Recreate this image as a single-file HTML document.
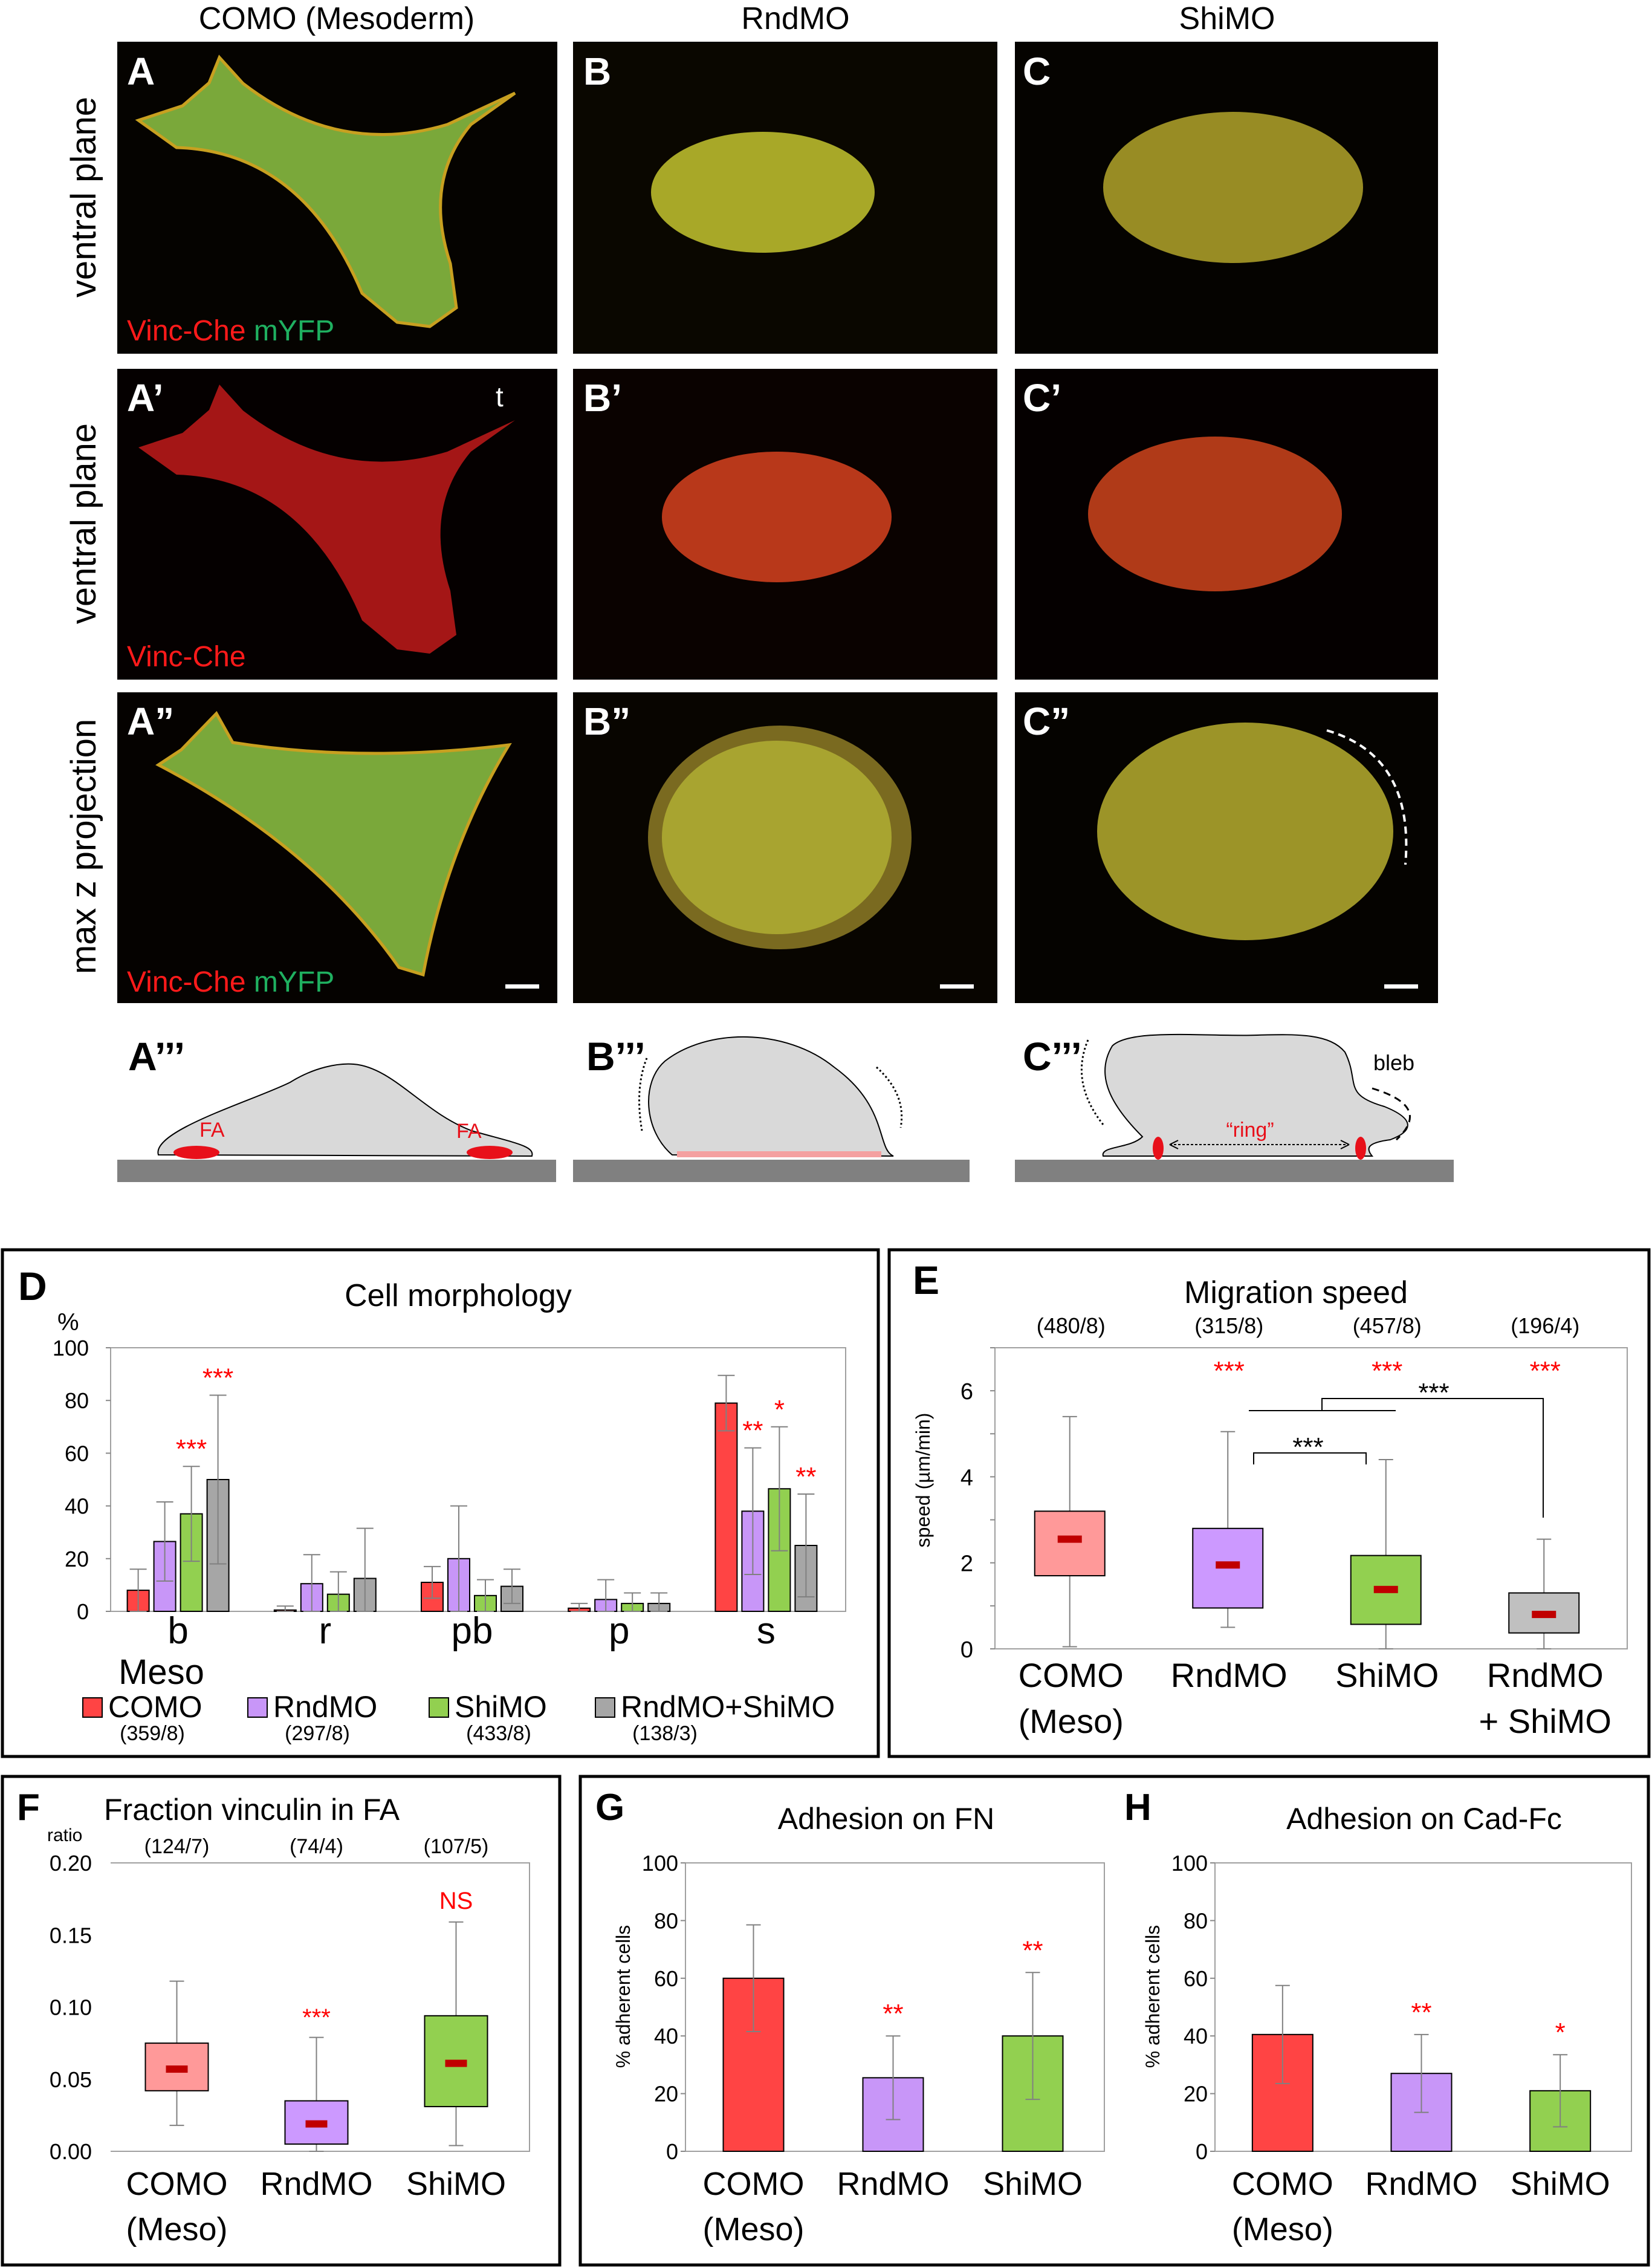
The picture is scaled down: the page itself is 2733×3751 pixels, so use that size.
<!DOCTYPE html>
<html><head><meta charset="utf-8"><style>
html,body{margin:0;padding:0;background:#fff}
svg{display:block}
text{font-family:"Liberation Sans Narrow","Liberation Sans",sans-serif}
</style></head><body>
<svg id="fig" xmlns="http://www.w3.org/2000/svg" width="2733" height="3751" viewBox="0 0 2733 3751">
<g font-size="52" text-anchor="middle" fill="#000">
<text x="557" y="48">COMO (Mesoderm)</text>
<text x="1316" y="48">RndMO</text>
<text x="2030" y="48">ShiMO</text>
</g>
<g font-size="58" text-anchor="middle" fill="#000" style="font-family:'Liberation Sans',sans-serif">
<text transform="translate(158,326) rotate(-90)">ventral plane</text>
<text transform="translate(158,866) rotate(-90)">ventral plane</text>
<text transform="translate(158,1400) rotate(-90)">max z projection</text>
</g>
<g>
<rect x="194" y="69" width="728" height="516" fill="#050300"/>
<path d="M363,95 L402,138 Q560,260 740,206 L852,154 L779,206 Q700,300 745,436 L755,509 L711,540 L657,533 L599,485 Q500,250 292,244 L229,199 L302,175 L346,137 Z" fill="#7aa83a" stroke="#c8a020" stroke-width="5"/>
<text x="210" y="140" font-size="64" font-weight="bold" fill="#fff">A</text>
<text x="210" y="563" font-size="48" fill="#ff1a1a">Vinc-Che <tspan fill="#1fb060">mYFP</tspan></text>
</g>
<g>
<rect x="194" y="610" width="728" height="514" fill="#050000"/>
<path transform="translate(0,541)" d="M363,95 L402,138 Q560,260 740,206 L852,154 L779,206 Q700,300 745,436 L755,509 L711,540 L657,533 L599,485 Q500,250 292,244 L229,199 L302,175 L346,137 Z" fill="#a41616"/>
<text x="210" y="680" font-size="64" font-weight="bold" fill="#fff">A’</text>
<text x="820" y="672" font-size="46" fill="#fff">t</text>
<text x="210" y="1102" font-size="48" fill="#ff1a1a">Vinc-Che</text>
</g>
<g>
<rect x="194" y="1145" width="728" height="514" fill="#050200"/>
<path d="M358,1180 L385,1228 Q600,1262 842,1232 Q740,1400 700,1612 L660,1600 Q520,1400 262,1265 L300,1240 Z" fill="#7aa83a" stroke="#c8a020" stroke-width="5"/>
<text x="210" y="1215" font-size="64" font-weight="bold" fill="#fff">A”</text>
<text x="210" y="1640" font-size="48" fill="#ff1a1a">Vinc-Che <tspan fill="#1fb060">mYFP</tspan></text>
<rect x="836" y="1628" width="56" height="7" fill="#fff"/>
</g>
<g>
<rect x="948" y="69" width="702" height="516" fill="#0a0700"/>
<ellipse cx="1262" cy="318" rx="185" ry="100" fill="#a8a828"/>
<text x="965" y="140" font-size="64" font-weight="bold" fill="#fff">B</text>
</g>
<g>
<rect x="948" y="610" width="702" height="514" fill="#0a0200"/>
<ellipse cx="1285" cy="855" rx="190" ry="108" fill="#b8381a"/>
<text x="965" y="680" font-size="64" font-weight="bold" fill="#fff">B’</text>
</g>
<g>
<rect x="948" y="1145" width="702" height="514" fill="#080500"/>
<ellipse cx="1290" cy="1385" rx="218" ry="185" fill="#7a6a20"/>
<ellipse cx="1285" cy="1385" rx="190" ry="160" fill="#a8a430"/>
<text x="965" y="1215" font-size="64" font-weight="bold" fill="#fff">B”</text>
<rect x="1555" y="1628" width="56" height="7" fill="#fff"/>
</g>
<g>
<rect x="1679" y="69" width="700" height="516" fill="#050300"/>
<ellipse cx="2040" cy="310" rx="215" ry="125" fill="#988c24"/>
<text x="1692" y="140" font-size="64" font-weight="bold" fill="#fff">C</text>
</g>
<g>
<rect x="1679" y="610" width="700" height="514" fill="#050000"/>
<ellipse cx="2010" cy="850" rx="210" ry="128" fill="#b03a18"/>
<text x="1692" y="680" font-size="64" font-weight="bold" fill="#fff">C’</text>
</g>
<g>
<rect x="1679" y="1145" width="700" height="514" fill="#050300"/>
<ellipse cx="2060" cy="1375" rx="245" ry="180" fill="#9c9428"/>
<path d="M2195,1208 Q2340,1250 2325,1430" fill="none" stroke="#fff" stroke-width="4" stroke-dasharray="12,8"/>
<text x="1692" y="1215" font-size="64" font-weight="bold" fill="#fff">C”</text>
<rect x="2290" y="1628" width="56" height="7" fill="#fff"/>
</g>
<g>
<text x="212" y="1770" font-size="66" font-weight="bold">A’’’</text>
<text x="970" y="1770" font-size="66" font-weight="bold">B’’’</text>
<text x="1692" y="1770" font-size="66" font-weight="bold">C’’’</text>
<rect x="194" y="1918" width="726" height="37" fill="#808080"/>
<rect x="948" y="1918" width="656" height="37" fill="#808080"/>
<rect x="1679" y="1918" width="726" height="37" fill="#808080"/>
<path d="M262,1910 C250,1870 420,1820 480,1790 C520,1765 560,1758 585,1760 C650,1765 700,1840 780,1870 C850,1890 885,1895 880,1912 Z" fill="#d9d9d9" stroke="#000" stroke-width="2"/>
<ellipse cx="325" cy="1906" rx="38" ry="11" fill="#e8101a"/>
<ellipse cx="810" cy="1906" rx="38" ry="11" fill="#e8101a"/>
<text x="330" y="1880" font-size="34" fill="#e8101a">FA</text>
<text x="755" y="1882" font-size="34" fill="#e8101a">FA</text>
<path d="M1112,1910 C1065,1870 1060,1790 1100,1755 C1170,1700 1300,1700 1380,1765 C1470,1830 1450,1900 1478,1912 Z" fill="#d9d9d9" stroke="#000" stroke-width="2"/>
<rect x="1120" y="1904" width="338" height="10" fill="#f4a0a0"/>
<path d="M1070,1750 Q1050,1800 1062,1870 M1450,1765 Q1500,1810 1490,1865" fill="none" stroke="#000" stroke-width="3" stroke-dasharray="3,4"/>
<path d="M1825,1912 C1820,1895 1870,1900 1890,1880 C1840,1830 1810,1780 1840,1730 C1870,1700 2000,1715 2080,1712 C2150,1710 2200,1710 2225,1740 C2250,1790 2220,1810 2290,1830 C2340,1850 2340,1870 2300,1885 C2260,1890 2260,1900 2270,1912 Z" fill="#d9d9d9" stroke="#000" stroke-width="2"/>
<ellipse cx="1916" cy="1899" rx="9" ry="19" fill="#e8101a"/>
<ellipse cx="2251" cy="1899" rx="9" ry="19" fill="#e8101a"/>
<path d="M1935,1893 L2232,1893" stroke="#000" stroke-width="2" stroke-dasharray="4,3"/>
<path d="M1935,1893 l14,-7 M1935,1893 l14,7 M2232,1893 l-14,-7 M2232,1893 l-14,7" stroke="#000" stroke-width="2"/>
<text x="2068" y="1880" font-size="34" fill="#e8101a" text-anchor="middle">“ring”</text>
<text x="2272" y="1770" font-size="36">bleb</text>
<path d="M1800,1720 Q1770,1790 1825,1860" fill="none" stroke="#000" stroke-width="3" stroke-dasharray="3,4"/>
<path d="M2270,1800 Q2370,1830 2310,1885" fill="none" stroke="#000" stroke-width="3" stroke-dasharray="12,8"/>
</g>
<rect x="4" y="2067" width="1449" height="838" fill="none" stroke="#000" stroke-width="5"/>
<rect x="1471" y="2067" width="1257" height="838" fill="none" stroke="#000" stroke-width="5"/>
<rect x="4" y="2938" width="922" height="808" fill="none" stroke="#000" stroke-width="5"/>
<rect x="960" y="2938" width="1767" height="808" fill="none" stroke="#000" stroke-width="5"/>
<g id="charts"></g>
</svg>
<script>
// ---- Panel D data ----
const dCats = ['b','r','pb','p','s'];
const dSeriesNames = ['COMO','RndMO','ShiMO','RndMO+ShiMO'];
const dCounts = ['(359/8)','(297/8)','(433/8)','(138/3)'];
const dComo = [8, 0.5, 11, 1.2, 79];
const dRnd = [26.5, 10.5, 20, 4.5, 38];
const dShi = [37, 6.5, 6, 3, 46.5];
const dBoth = [50, 12.5, 9.5, 3, 25];
const dComoErr = [8, 1.5, 6, 1.8, 10.5];
const dRndErr = [15, 11, 20, 7.5, 24];
const dShiErr = [18, 8.5, 6, 4, 23.5];
const dBothErr = [32, 19, 6.5, 4, 19.5];
const dStars = [['','','***','***'],['','','',''],['','','',''],['','','',''],['','**','*','**']];
const dTicks = [0,20,40,60,80,100];
// ---- Panel E data ----
const eCats = [['COMO','(Meso)'],['RndMO',''],['ShiMO',''],['RndMO','+ ShiMO']];
const eCounts = ['(480/8)','(315/8)','(457/8)','(196/4)'];
const eMin = [0.05, 0.5, 0, 0];
const eQ1 = [1.7, 0.95, 0.57, 0.37];
const eMed = [2.55, 1.95, 1.38, 0.8];
const eQ3 = [3.2, 2.8, 2.17, 1.3];
const eMax = [5.4, 5.05, 4.4, 2.55];
const eStars = ['','***','***','***'];
const eTicks = [0,2,4,6];
// ---- Panel F data ----
const fCats = [['COMO','(Meso)'],['RndMO',''],['ShiMO','']];
const fCounts = ['(124/7)','(74/4)','(107/5)'];
const fMin = [0.018, 0.0, 0.004];
const fQ1 = [0.042, 0.005, 0.031];
const fMed = [0.057, 0.019, 0.061];
const fQ3 = [0.075, 0.035, 0.094];
const fMax = [0.118, 0.079, 0.159];
const fSig = ['','***','NS'];
const fTicks = ['0.00','0.05','0.10','0.15','0.20'];
// ---- Panel G/H data ----
const ghCats = [['COMO','(Meso)'],['RndMO',''],['ShiMO','']];
const gVals = [60, 25.5, 40];
const gErr = [18.5, 14.5, 22];
const gStars = ['','**','**'];
const hVals = [40.5, 27, 21];
const hErr = [17, 13.5, 12.5];
const hStars = ['','**','*'];
const ghTicks = [0,20,40,60,80,100];

const NS='http://www.w3.org/2000/svg';
const root=document.getElementById('charts');
function mk(tag,attrs,parent,txt){const e=document.createElementNS(NS,tag);for(const k in attrs)e.setAttribute(k,attrs[k]);if(txt!==undefined)e.textContent=txt;(parent||root).appendChild(e);return e;}

// ===== D =====
(function(){
const g=mk('g',{});


const L=183,R=1399,T=2229,B=2665;
const y=v=>B-(v/100)*(B-T);
const groupW=(R-L)/dCats.length;
const cx=i=>L+groupW*(i+0.5)-10;
const cols=['#ff4444','#c896f8','#92d050','#a6a6a6'];
const vals=[dComo,dRnd,dShi,dBoth], errs=[dComoErr,dRndErr,dShiErr,dBothErr];
let t=mk('text',{x:30,y:2150,'font-size':66,'font-weight':'bold'},g,'D');

t=mk('text',{x:758,y:2160,'font-size':52,'text-anchor':'middle'},g,'Cell morphology');

t=mk('text',{x:95,y:2200,'font-size':40},g,'%');

let r=mk('rect',{x:L,y:T,width:R-L,height:B-T,fill:'none',stroke:'#a0a0a0','stroke-width':2},g);

dTicks.forEach(v=>{const tt=mk('text',{x:147,y:y(v)+13,'font-size':36,'text-anchor':'end'},g,String(v));

const ln=mk('line',{x1:L-8,x2:L,y1:y(v),y2:y(v),stroke:'#888','stroke-width':2},g);
});
dCats.forEach((c,i)=>{
 const tt=mk('text',{x:cx(i),y:2718,'font-size':62,'text-anchor':'middle'},g,c);
 
 for(let s=0;s<4;s++){
  const bx=cx(i)+(s-1.5)*44-18, v=vals[s][i], e=errs[s][i];
  const b=mk('rect',{x:bx,y:y(v),width:36,height:B-y(v),fill:cols[s],stroke:'#000','stroke-width':2},g);
  
  
  const m=bx+18, hi=v+e, lo=Math.max(0,v-e);
  const eb=mk('path',{d:`M${m},${y(lo)}V${y(hi)}M${m-14},${y(hi)}H${m+14}M${m-14},${y(lo)}H${m+14}`,stroke:'#808080','stroke-width':2,fill:'none'},g);
  
  if(dStars[i][s]){const st=mk('text',{x:m,y:y(hi)-14,'font-size':44,'text-anchor':'middle',fill:'#ff0000'},g,dStars[i][s]);
  }
 }
});
t=mk('text',{x:267,y:2785,'font-size':58,'text-anchor':'middle'},g,'Meso');

const lx=[137,410,710,985];
dSeriesNames.forEach((n,s)=>{
 const sw=mk('rect',{x:lx[s],y:2808,width:32,height:32,fill:cols[s],stroke:'#000','stroke-width':2},g);
 
 const lt=mk('text',{x:lx[s]+42,y:2840,'font-size':50},g,n);
 
 const ct=mk('text',{x:lx[s]+115,y:2878,'font-size':34,'text-anchor':'middle'},g,dCounts[s]);
 
});
})();

function boxChart(g,opt,mn,q1,md,q3,mx){
 mn.forEach((_,i)=>{
  const c=opt.cx(i), w=opt.bw, y=opt.y;
  const wk=mk('path',{d:`M${c},${y(mn[i])}V${y(q1[i])}M${c},${y(q3[i])}V${y(mx[i])}M${c-12},${y(mx[i])}H${c+12}M${c-12},${y(mn[i])}H${c+12}`,stroke:'#808080','stroke-width':2,fill:'none'},g);
  
  const b=mk('rect',{x:c-w/2,y:y(q3[i]),width:w,height:y(q1[i])-y(q3[i]),fill:opt.cols[i],stroke:'#000','stroke-width':2},g);
  
  const m=mk('rect',{x:c-opt.mw/2,y:y(md[i])-6,width:opt.mw,height:12,fill:'#c00000'},g);
  
 });
}

// ===== E =====
(function(){
const g=mk('g',{});


const L=1646,R=2692,T=2229,B=2727,YM=7;
const y=v=>B-(v/YM)*(B-T);
const cw=(R-L)/4, cx=i=>L+cw*(i+0.5)-7;
let t=mk('text',{x:1510,y:2140,'font-size':66,'font-weight':'bold'},g,'E');

t=mk('text',{x:2144,y:2155,'font-size':52,'text-anchor':'middle'},g,'Migration speed');

let r=mk('rect',{x:L,y:T,width:R-L,height:B-T,fill:'none',stroke:'#a0a0a0','stroke-width':2},g);

t=mk('text',{transform:'translate(1538,2448) rotate(-90)','font-size':32,'text-anchor':'middle',style:"font-family:'Liberation Sans',sans-serif"},g,'speed (µm/min)');

for(let v=0;v<=YM;v++){const ln=mk('line',{x1:L-8,x2:L,y1:y(v),y2:y(v),stroke:'#888','stroke-width':2},g);
}
eTicks.forEach(v=>{const tt=mk('text',{x:1610,y:y(v)+14,'font-size':38,'text-anchor':'end'},g,String(v));
});
boxChart(g,{cx,y,bw:116,mw:40,cols:['#ff9999','#cc99ff','#92d050','#c0c0c0']},eMin,eQ1,eMed,eQ3,eMax);
eCats.forEach((c,i)=>{
 let a=mk('text',{x:cx(i)+2,y:2205,'font-size':36,'text-anchor':'middle'},g,eCounts[i]);
 
 a=mk('text',{x:cx(i)+2,y:2790,'font-size':56,'text-anchor':'middle'},g,c[0]);
 
 if(c[1]){a=mk('text',{x:cx(i)+2,y:2866,'font-size':56,'text-anchor':'middle'},g,c[1]);
 }
 if(eStars[i]){a=mk('text',{x:cx(i)+2,y:2282,'font-size':44,'text-anchor':'middle',fill:'#ff0000'},g,eStars[i]);
 }
});
let br=mk('path',{d:'M2074,2422V2403H2260V2422',stroke:'#000','stroke-width':2,fill:'none'},g);

t=mk('text',{x:2164,y:2408,'font-size':44,'text-anchor':'middle'},g,'***');

br=mk('path',{d:'M2066,2333H2309M2187,2333V2313H2553V2510',stroke:'#000','stroke-width':2,fill:'none'},g);

t=mk('text',{x:2372,y:2318,'font-size':44,'text-anchor':'middle'},g,'***');

})();

// ===== F =====
(function(){
const g=mk('g',{});


const L=183,R=876,T=3081,B=3558;
const y=v=>B-(v/0.2)*(B-T);
const cw=(R-L)/3, cx=i=>L+cw*(i+0.5)-6;
let t=mk('text',{x:28,y:3010,'font-size':62,'font-weight':'bold'},g,'F');

t=mk('text',{x:172,y:3010,'font-size':50},g,'Fraction vinculin in FA');

t=mk('text',{x:78,y:3045,'font-size':30},g,'ratio');

let r=mk('path',{d:`M${L},${T}H${R}V${B}H${L}`,fill:'none',stroke:'#a0a0a0','stroke-width':2},g);

fTicks.forEach(s=>{const v=parseFloat(s);const tt=mk('text',{x:152,y:y(v)+13,'font-size':36,'text-anchor':'end'},g,s);
});
boxChart(g,{cx,y,bw:104,mw:36,cols:['#ff9999','#cc99ff','#92d050']},fMin,fQ1,fMed,fQ3,fMax);
fCats.forEach((c,i)=>{
 let a=mk('text',{x:cx(i),y:3065,'font-size':34,'text-anchor':'middle'},g,fCounts[i]);
 
 a=mk('text',{x:cx(i),y:3630,'font-size':54,'text-anchor':'middle'},g,c[0]);
 
 if(c[1]){a=mk('text',{x:cx(i),y:3705,'font-size':54,'text-anchor':'middle'},g,c[1]);
 }
 if(fSig[i]){a=mk('text',{x:cx(i),y:fSig[i]==='NS'?3157:3350,'font-size':40,'text-anchor':'middle',fill:'#ff0000'},g,fSig[i]);
 }
});
})();

// ===== G / H =====
function barPanel(name,letter,lx,title,tx,L,R,vals,errs,stars){
const g=mk('g',{});


const T=3081,B=3558;
const y=v=>B-(v/100)*(B-T);
const cw=(R-L)/3, cx=i=>L+cw*(i+0.5)-3;
const cols=['#ff4444','#c896f8','#92d050'];
let t=mk('text',{x:lx,y:3010,'font-size':62,'font-weight':'bold'},g,letter);

t=mk('text',{x:tx,y:3025,'font-size':50,'text-anchor':'middle'},g,title);

let r=mk('path',{d:`M${L},${T}H${R}V${B}H${L}Z`,fill:'none',stroke:'#a0a0a0','stroke-width':2},g);

t=mk('text',{transform:`translate(${L-92},${3302}) rotate(-90)`,'font-size':32,'text-anchor':'middle',style:"font-family:'Liberation Sans',sans-serif"},g,'% adherent cells');

ghTicks.forEach(v=>{const tt=mk('text',{x:L-12,y:y(v)+13,'font-size':36,'text-anchor':'end'},g,String(v));

const ln=mk('line',{x1:L-8,x2:L,y1:y(v),y2:y(v),stroke:'#888','stroke-width':2},g);
});
vals.forEach((v,i)=>{
 const c=cx(i);
 const b=mk('rect',{x:c-50,y:y(v),width:100,height:B-y(v),fill:cols[i],stroke:'#000','stroke-width':2},g);
 
 const hi=v+errs[i], lo=Math.max(0,v-errs[i]);
 const eb=mk('path',{d:`M${c},${y(lo)}V${y(hi)}M${c-12},${y(hi)}H${c+12}M${c-12},${y(lo)}H${c+12}`,stroke:'#808080','stroke-width':2,fill:'none'},g);
 
 let a=mk('text',{x:c,y:3630,'font-size':54,'text-anchor':'middle'},g,ghCats[i][0]);
 
 if(ghCats[i][1]){a=mk('text',{x:c,y:3705,'font-size':54,'text-anchor':'middle'},g,ghCats[i][1]);
 }
 if(stars[i]){a=mk('text',{x:c,y:y(hi)-22,'font-size':44,'text-anchor':'middle',fill:'#ff0000'},g,stars[i]);
 }
});
}
barPanel('panel-g-chart','G',985,'Adhesion on FN',1466,1134,1827,gVals,gErr,gStars);
barPanel('panel-h-chart','H',1860,'Adhesion on Cad-Fc',2356,2010,2699,hVals,hErr,hStars);
</script>
</body></html>
